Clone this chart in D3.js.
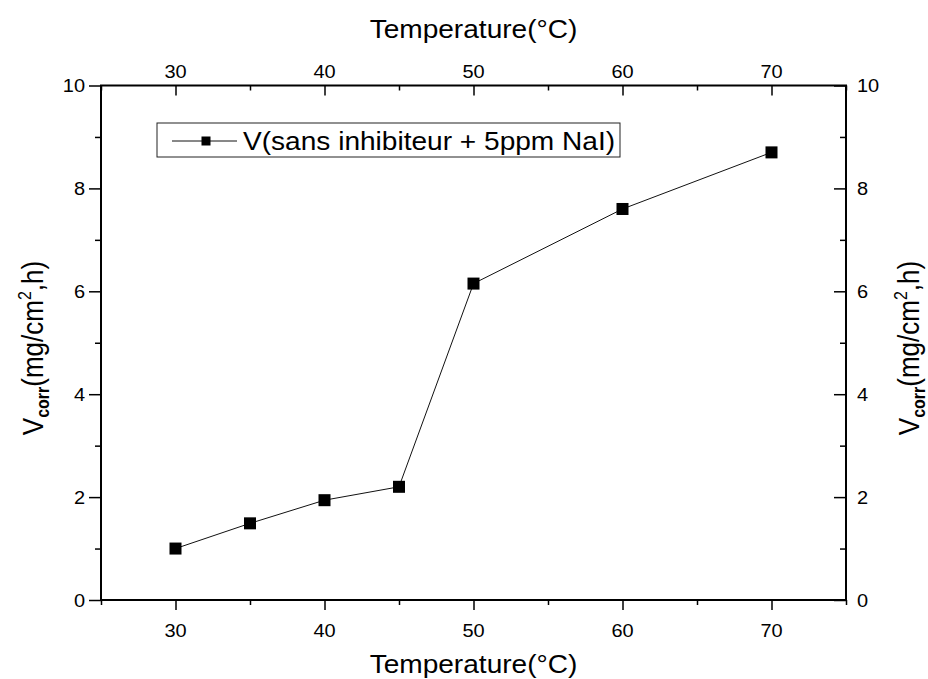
<!DOCTYPE html>
<html>
<head>
<meta charset="utf-8">
<script src="https://cdn.jsdelivr.net/npm/d3@7"></script>
<style>
  html, body { margin: 0; padding: 0; background: #fff; }
  svg { display: block; }
  text { font-family: "Liberation Sans", Arial, sans-serif; fill: #000; }
</style>
</head>
<body>
<svg id="chart" width="928" height="679"></svg>
<script>
// ---- data ----
const temperatures = [30, 35, 40, 45, 50, 60, 70];
const vcorr = [1.0, 1.49, 1.94, 2.2, 6.15, 7.6, 8.7];
const seriesName = "V(sans inhibiteur + 5ppm NaI)";
const xTicks = [30, 40, 50, 60, 70];
const xMinorTicks = [25, 35, 45, 55, 65, 75];
const yTicks = [0, 2, 4, 6, 8, 10];
const yMinorTicks = [1, 3, 5, 7, 9];
const xTitle = "Temperature(°C)";

(function () {
const pL = 101, pR = 846, pT = 85.5, pB = 600;
const SX = 1.08; // horizontal text stretch

const svg = d3.select("#chart");
const x = d3.scaleLinear().domain([25, 75]).range([pL, pR]);
const y = d3.scaleLinear().domain([0, 10]).range([pB, pT]);

function stretchedText(g, tx, ty, str, size, anchor) {
  const t = g.append("g").attr("transform", `translate(${tx},${ty}) scale(${SX},1)`);
  t.append("text").attr("text-anchor", anchor).attr("font-size", size).text(str);
  return t;
}

function addAxis(axisGen, transform) {
  const g = svg.append("g").attr("transform", transform).call(axisGen);
  g.select(".domain").remove();
  g.selectAll("line").attr("stroke", "#000").attr("stroke-width", 1.5);
  g.selectAll("text").remove();
  return g;
}
addAxis(d3.axisBottom(x).tickValues(xTicks).tickSizeInner(10).tickSizeOuter(0), `translate(0,${pB})`);
addAxis(d3.axisBottom(x).tickValues(xMinorTicks).tickSizeInner(5).tickSizeOuter(0), `translate(0,${pB})`);
addAxis(d3.axisTop(x).tickValues(xTicks).tickSizeInner(-10).tickSizeOuter(0), `translate(0,${pT})`);
addAxis(d3.axisTop(x).tickValues(xMinorTicks).tickSizeInner(-5).tickSizeOuter(0), `translate(0,${pT})`);
addAxis(d3.axisLeft(y).tickValues(yTicks).tickSizeInner(12).tickSizeOuter(0), `translate(${pL},0)`);
addAxis(d3.axisLeft(y).tickValues(yMinorTicks).tickSizeInner(6).tickSizeOuter(0), `translate(${pL},0)`);
addAxis(d3.axisRight(y).tickValues(yTicks).tickSizeInner(-12).tickSizeOuter(0), `translate(${pR},0)`);
addAxis(d3.axisRight(y).tickValues(yMinorTicks).tickSizeInner(-6).tickSizeOuter(0), `translate(${pR},0)`);

svg.append("rect")
  .attr("x", pL).attr("y", pT)
  .attr("width", pR - pL).attr("height", pB - pT)
  .attr("fill", "none").attr("stroke", "#000").attr("stroke-width", 2);

const lab = svg.append("g");
xTicks.forEach(v => {
  stretchedText(lab, x(v), 637, String(v), 18.5, "middle");
  stretchedText(lab, x(v), 78, String(v), 18.5, "middle");
});
yTicks.forEach(v => {
  stretchedText(lab, 85, y(v) + 6.5, String(v), 18.5, "end");
  stretchedText(lab, 857, y(v) + 6.5, String(v), 18.5, "start");
});

stretchedText(svg, (pL + pR) / 2, 38, xTitle, 26, "middle");
stretchedText(svg, (pL + pR) / 2, 673, xTitle, 26, "middle");

function yTitle(bx, cy) {
  const g = svg.append("g").attr("transform", `translate(${bx},${cy}) scale(1.12,1) rotate(-90)`);
  const t = g.append("text").attr("text-anchor", "middle").attr("font-size", 26);
  t.append("tspan").text("V");
  t.append("tspan").attr("font-size", 16).attr("font-weight", "bold").attr("dy", 5).text("corr");
  t.append("tspan").attr("dy", -5).text("(mg/cm");
  t.append("tspan").attr("font-size", 16).attr("dy", -11).text("2");
  t.append("tspan").attr("dy", 11).text(",h)");
}
yTitle(43, 348);
yTitle(919, 348);

const pts = temperatures.map((t, i) => [t, vcorr[i]]);
svg.append("path")
  .datum(pts)
  .attr("fill", "none")
  .attr("stroke", "#111")
  .attr("stroke-width", 1)
  .attr("d", d3.line().x(d => x(d[0])).y(d => y(d[1])));
const ms = 12;
svg.append("g").selectAll("rect").data(pts).join("rect")
  .attr("x", d => x(d[0]) - ms / 2)
  .attr("y", d => y(d[1]) - ms / 2)
  .attr("width", ms).attr("height", ms)
  .attr("fill", "#000");

const leg = svg.append("g");
leg.append("rect").attr("x", 157).attr("y", 123).attr("width", 463).attr("height", 34)
  .attr("fill", "#fff").attr("stroke", "#222").attr("stroke-width", 1);
leg.append("line").attr("x1", 172).attr("x2", 237).attr("y1", 141).attr("y2", 141)
  .attr("stroke", "#111").attr("stroke-width", 1);
leg.append("rect").attr("x", 201.5).attr("y", 136.5).attr("width", 9).attr("height", 9).attr("fill", "#000");
stretchedText(leg, 243, 150, seriesName, 26, "start");
})();
</script>
</body>
</html>
